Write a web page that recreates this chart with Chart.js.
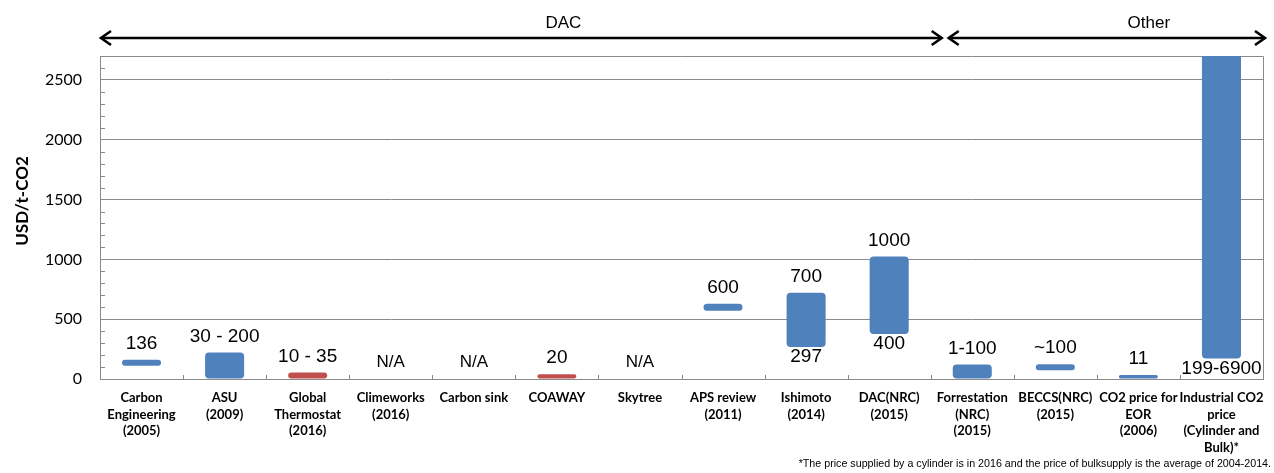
<!DOCTYPE html>
<html><head><meta charset="utf-8">
<script src="https://cdn.jsdelivr.net/npm/chart.js@4/dist/chart.umd.min.js"></script>
<style>html,body{margin:0;padding:0;background:#fff;}canvas{display:block;}</style>
</head><body>
<canvas id="c" width="1274" height="473"></canvas>
<script>
const categories = [
  ["Carbon","Engineering","(2005)"],
  ["ASU","(2009)"],
  ["Global","Thermostat","(2016)"],
  ["Climeworks","(2016)"],
  ["Carbon sink"],
  ["COAWAY"],
  ["Skytree"],
  ["APS review","(2011)"],
  ["Ishimoto","(2014)"],
  ["DAC(NRC)","(2015)"],
  ["Forrestation","(NRC)","(2015)"],
  ["BECCS(NRC)","(2015)"],
  ["CO2 price for","EOR","(2006)"],
  ["Industrial CO2","price","(Cylinder and","Bulk)*"]
];
const lowValues  = [110, 0, 0, null, null, 0, null, 570, 267, 376, 0, 73, 0, 172];
const highValues = [160, 222, 54, null, null, 40, null, 629, 721, 1024, 121, 124, 34, 6900];
const barColors  = ["#4F81BD","#4F81BD","#C0504D","#4F81BD","#4F81BD","#C0504D","#4F81BD",
                    "#4F81BD","#4F81BD","#4F81BD","#4F81BD","#4F81BD","#4F81BD","#4F81BD"];
const topLabels    = ["136","30 - 200","10 - 35","N/A","N/A","20","N/A","600","700","1000","1-100","~100","11",""];
const bottomLabels = ["","","","","","","","","297","400","","","","199-6900"];
const yTicks = [0, 500, 1000, 1500, 2000, 2500];
const yMin = 0, yMax = 2700, yMinorStep = 100;
const yTitle = "USD/t-CO2";
const groupNames = ["DAC","Other"];
const footnote = "*The price supplied by a cylinder is in 2016 and the price of bulksupply is the average of 2004-2014.";

const GRID = "#8a8a8a";

const decor = {
  id: "decor",
  beforeDatasetsDraw(chart) {
    const {ctx, chartArea: a, scales: {x: xs, y: ys}} = chart;
    ctx.save();
    ctx.strokeStyle = GRID; ctx.lineWidth = 1;
    ctx.beginPath();
    ctx.moveTo(a.left, a.top + 0.5); ctx.lineTo(a.right + 0.5, a.top + 0.5);
    ctx.lineTo(a.right + 0.5, a.bottom);
    ctx.stroke();
    ctx.beginPath();
    for (let v = yMinorStep; v <= yMax; v += yMinorStep) {
      if (yTicks.includes(v)) continue;
      const y = Math.round(ys.getPixelForValue(v)) + 0.5;
      ctx.moveTo(a.left, y); ctx.lineTo(a.left + 5, y);
    }
    for (let i = 1; i < categories.length; i++) {
      const xb = Math.round((xs.getPixelForValue(i - 1) + xs.getPixelForValue(i)) / 2) + 0.5;
      ctx.moveTo(xb, a.bottom); ctx.lineTo(xb, a.bottom - 4);
    }
    ctx.stroke();
    ctx.restore();
  },
  afterDraw(chart) {
    const {ctx, chartArea: a, scales: {x: xs, y: ys}} = chart;
    ctx.save();
    ctx.fillStyle = "#000";
    ctx.textAlign = "center"; ctx.textBaseline = "middle";
    categories.forEach((c, i) => {
      const x = xs.getPixelForValue(i);
      if (topLabels[i]) {
        const isNA = topLabels[i] === "N/A";
        const top = highValues[i] == null ? 0 : Math.min(highValues[i], yMax);
        ctx.font = isNA ? '17px "Liberation Sans", Arial' : '19px "Liberation Sans", Arial';
        ctx.fillText(topLabels[i], x, ys.getPixelForValue(top) - (isNA ? 17 : 16));
      }
      if (bottomLabels[i]) {
        ctx.font = '19px "Liberation Sans", Arial';
        ctx.fillText(bottomLabels[i], x, ys.getPixelForValue(lowValues[i]) + 10);
      }
    });
    const xb = (xs.getPixelForValue(9) + xs.getPixelForValue(10)) / 2;
    const groups = [[a.left, xb + 12], [xb + 17, a.right + 3]];
    const ay = 38;
    ctx.strokeStyle = "#000"; ctx.lineWidth = 2.6; ctx.lineJoin = "miter"; ctx.lineCap = "butt";
    groups.forEach(([x1, x2], gi) => {
      ctx.beginPath();
      ctx.moveTo(x1 + 1, ay); ctx.lineTo(x2 - 1, ay);
      ctx.stroke();
      ctx.beginPath();
      ctx.moveTo(x1 + 11, ay - 7); ctx.lineTo(x1 + 1, ay); ctx.lineTo(x1 + 11, ay + 7);
      ctx.moveTo(x2 - 11, ay - 7); ctx.lineTo(x2 - 1, ay); ctx.lineTo(x2 - 11, ay + 7);
      ctx.stroke();
      ctx.font = '17px "Liberation Sans", Arial';
      ctx.fillText(groupNames[gi], (x1 + x2) / 2 + 42, 23);
    });
    ctx.save();
    ctx.translate(23, 201);
    ctx.rotate(-Math.PI / 2);
    ctx.font = 'bold 17px Lato';
    ctx.fillText(yTitle, 0, 0);
    ctx.restore();
    ctx.font = '10.7px "Liberation Sans", Arial';
    ctx.textAlign = "right";
    ctx.fillText(footnote, 1271, 464);
    ctx.restore();
  }
};

function draw() {
  new Chart(document.getElementById("c"), {
    type: "bar",
    data: {
      labels: categories,
      datasets: [{
        data: categories.map((c, i) => highValues[i] == null ? null : [lowValues[i], highValues[i]]),
        backgroundColor: barColors,
        borderWidth: 0,
        borderRadius: 4,
        borderSkipped: false,
        categoryPercentage: 1,
        barPercentage: 0.47
      }]
    },
    options: {
      responsive: false,
      animation: false,
      devicePixelRatio: 1,
      layout: {padding: {top: 56, right: 11, left: 0, bottom: 0}},
      plugins: {legend: {display: false}, tooltip: {enabled: false}, title: {display: false}},
      scales: {
        x: {
          offset: true,
          grid: {display: false, drawTicks: false},
          border: {display: true, color: GRID, width: 1},
          ticks: {
            autoSkip: false, maxRotation: 0, minRotation: 0,
            color: "#000", padding: 10,
            font: {family: "Lato", weight: "bold", size: 13, lineHeight: 1.3}
          },
          afterFit(s) { s.height = 94; }
        },
        y: {
          min: yMin, max: yMax,
          grid: {color: GRID, lineWidth: 1, drawTicks: false},
          border: {display: true, color: GRID, width: 1},
          afterBuildTicks(s) { s.ticks = yTicks.map(v => ({value: v})); },
          ticks: {
            color: "#000", padding: 18,
            font: {family: "Lato", size: 16},
            callback: v => String(v)
          },
          afterFit(s) { s.width = 100; }
        }
      }
    },
    plugins: [decor]
  });
}
if (document.fonts && document.fonts.load) {
  Promise.all([
    document.fonts.load('16px Lato'), document.fonts.load('bold 13px Lato'),
    document.fonts.load('bold 17px Lato'), document.fonts.load('19px "Liberation Sans"')
  ]).then(draw, draw);
} else draw();
</script>
</body></html>
